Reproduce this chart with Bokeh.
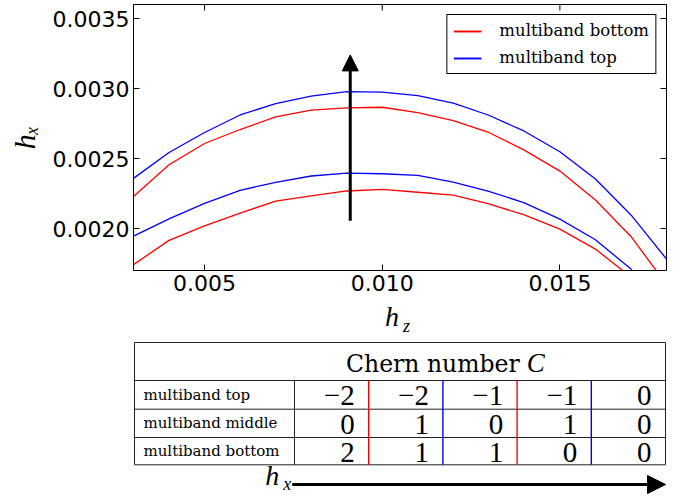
import math

from bokeh.plotting import figure
from bokeh.layouts import column
from bokeh.models import (Range1d, LinearAxis, FixedTicker, PrintfTickFormatter,
                          Label, Arrow, NormalHead, Legend, LegendItem)
from bokeh.embed import file_html
from bokeh.resources import INLINE
from bokeh.core.properties import value

# ---- data -------------------------------------------------------------
# h_z grid
hz = [0.003, 0.004, 0.005, 0.006, 0.007, 0.008, 0.009, 0.010,
      0.011, 0.012, 0.013, 0.014, 0.015, 0.016, 0.017, 0.018]

# phase boundaries h_x(h_z) of the bottom multiband (two transitions)
bottom_upper = [0.002228, 0.002455, 0.002607, 0.002707, 0.002797, 0.002846,
                0.002861, 0.002866, 0.002828, 0.002771, 0.002686, 0.002560,
                0.002410, 0.002204, 0.001943, 0.001600]
bottom_lower = [0.001742, 0.001915, 0.002019, 0.002110, 0.002195, 0.002233,
                0.002268, 0.002280, 0.002259, 0.002238, 0.002176, 0.002097,
                0.001996, 0.001853, 0.001653, 0.001380]

# phase boundaries h_x(h_z) of the top multiband (two transitions)
top_upper = [0.002358, 0.002543, 0.002686, 0.002811, 0.002892, 0.002946,
             0.002977, 0.002974, 0.002949, 0.002896, 0.002809, 0.002695,
             0.002548, 0.002353, 0.002097, 0.001782]
top_lower = [0.001946, 0.002069, 0.002180, 0.002273, 0.002330, 0.002375,
             0.002396, 0.002391, 0.002380, 0.002332, 0.002266, 0.002183,
             0.002067, 0.001920, 0.001710, 0.001450]

x_ticks = [0.005, 0.010, 0.015]
y_ticks = [0.0020, 0.0025, 0.0030, 0.0035]

# Chern numbers of each multiband, ordered by increasing h_x
row_labels = ["multiband top", "multiband middle", "multiband bottom"]
chern_top = [-2, -2, -1, -1, 0]
chern_middle = [0, 1, 0, 1, 0]
chern_bottom = [2, 1, 1, 0, 0]
# which band's boundary separates neighbouring columns
divider_colors = ["red", "blue", "red", "blue"]

# ---- layout constants ---------------------------------------------------
W = 685
TOP_H = 302
BOT_H = 498 - TOP_H
FRAME_L, FRAME_R = 133, 667

ARROW_HZ = 0.0091
ARROW_FROM = 0.002055
ARROW_TO = 0.00324

SERIF = "DejaVu Serif"
MATH = "Liberation Serif"
INK = "black"

# ---- phase diagram ------------------------------------------------------
p = figure(width=W, height=TOP_H,
           x_range=Range1d(0.003, 0.018), y_range=Range1d(0.0017, 0.0036),
           x_axis_type=None, y_axis_type=None,
           output_backend="svg", toolbar_location=None,
           min_border_left=FRAME_L, min_border_right=W - 666,
           min_border_top=4, min_border_bottom=TOP_H - 270)
p.outline_line_color = INK
p.outline_line_width = 1
p.outline_line_alpha = 1
p.background_fill_color = "white"
p.border_fill_color = "white"


def make_axis(ticks, fmt):
    ax = LinearAxis(ticker=FixedTicker(ticks=ticks),
                    formatter=PrintfTickFormatter(format=fmt))
    ax.axis_line_color = None
    ax.major_tick_in = 6
    ax.major_tick_out = 0
    ax.minor_tick_in = 0
    ax.minor_tick_out = 0
    ax.major_tick_line_color = INK
    ax.major_tick_line_width = 1
    ax.major_label_text_font = "DejaVu Sans"
    ax.major_label_text_font_size = "22px"
    ax.major_label_text_color = INK
    ax.major_label_standoff = 4
    return ax


xaxis = make_axis(x_ticks, "%.3f")
yaxis = make_axis(y_ticks, "%.4f")
yaxis.axis_label = "h\u2093"
yaxis.axis_label_text_font = MATH
yaxis.axis_label_text_font_style = "italic"
yaxis.axis_label_text_font_size = "30px"
yaxis.axis_label_text_color = INK
yaxis.axis_label_standoff = 9
p.add_layout(xaxis, "below")
p.add_layout(yaxis, "left")

# inward ticks along the top and right edges (half of each dash is clipped away)
p.scatter(x=x_ticks, y=[p.y_range.end] * len(x_ticks), marker="dash", size=12,
          angle=math.pi / 2, line_color=INK, line_width=1)
p.scatter(x=[p.x_range.end] * len(y_ticks), y=y_ticks, marker="dash", size=12,
          line_color=INK, line_width=1)

r_up = p.line(hz, bottom_upper, line_color="red", line_width=1.3)
r_lo = p.line(hz, bottom_lower, line_color="red", line_width=1.3)
b_up = p.line(hz, top_upper, line_color="blue", line_width=1.3)
b_lo = p.line(hz, top_lower, line_color="blue", line_width=1.3)

legend = Legend(items=[LegendItem(label="multiband bottom", renderers=[r_up, r_lo]),
                       LegendItem(label="multiband top", renderers=[b_up, b_lo])],
                location="top_right", margin=10, padding=6, spacing=8,
                glyph_width=28, glyph_height=14, label_height=14,
                label_standoff=18,
                label_text_font=SERIF, label_text_font_size="16.5px",
                label_text_color=INK,
                border_line_color=INK, border_line_width=1,
                border_line_alpha=1, background_fill_alpha=1)
p.add_layout(legend)

p.add_layout(Arrow(end=NormalHead(size=16, fill_color=INK, line_color=INK),
                   x_start=ARROW_HZ, y_start=ARROW_FROM,
                   x_end=ARROW_HZ, y_end=ARROW_TO,
                   line_width=3, line_color=INK))

# ---- Chern number table ---------------------------------------------------
# this panel uses page-pixel coordinates (y grows downwards)
t = figure(width=W, height=BOT_H, x_range=Range1d(FRAME_L, FRAME_R),
           y_range=Range1d(498, TOP_H),
           x_axis_type=None, y_axis_type=None,
           output_backend="svg", toolbar_location=None,
           min_border_left=FRAME_L, min_border_right=W - FRAME_R,
           min_border_top=0, min_border_bottom=0)
t.outline_line_color = None
t.background_fill_color = "white"
t.border_fill_color = "white"


def math_label(x, y, s, size):
    return Label(x=x, y=y, text=s, text_font=MATH, text_font_style="italic",
                 text_font_size=size, text_color=INK,
                 text_baseline="alphabetic", text_align="left")


# h_z axis title
t.add_layout(math_label(385, 316, "h", "28px"))
t.add_layout(math_label(403, 325, "z", "18px"))
# h_x direction label
t.add_layout(math_label(265, 475, "h", "28px"))
t.add_layout(math_label(283, 483, "x", "18px"))

T_LEFT, T_RIGHT = 134, 666
T_TOP, T_HEAD = 342, 380
ROW_EDGES = [380, 408.7, 437, 464.3]
LABEL_COL = 294.3
COL_W = (T_RIGHT - LABEL_COL) / 5

# frame and horizontal rules
hy = [T_TOP] + ROW_EDGES
t.segment(x0=[T_LEFT] * len(hy), y0=hy, x1=[T_RIGHT] * len(hy), y1=hy,
          line_color="#222222", line_width=1)
t.segment(x0=[T_LEFT, T_RIGHT, LABEL_COL], y0=[T_TOP, T_TOP, T_HEAD],
          x1=[T_LEFT, T_RIGHT, LABEL_COL], y1=[ROW_EDGES[-1]] * 3,
          line_color="#222222", line_width=1)

# coloured phase-boundary dividers
dx = [LABEL_COL + COL_W * (k + 1) for k in range(len(divider_colors))]
t.segment(x0=dx, y0=[T_HEAD] * len(dx), x1=dx, y1=[ROW_EDGES[-1]] * len(dx),
          line_color=divider_colors, line_width=1.4)

# header
t.text(x=[346], y=[363], text=["Chern number"], text_font=value(SERIF),
       text_font_size=value("23.5px"), text_baseline="alphabetic", text_align="left",
       text_color=INK)
t.text(x=[527], y=[362], text=["C"], text_font=value(MATH),
       text_font_style=value("italic"), text_font_size=value("27px"),
       text_baseline="alphabetic", text_align="left", text_color=INK)

row_mid = [(ROW_EDGES[i] + ROW_EDGES[i + 1]) / 2 for i in range(3)]
t.text(x=[143] * 3, y=row_mid, text=row_labels, text_font=value(SERIF),
       text_font_size=value("15px"), text_baseline="middle", text_align="left",
       text_color=INK)

num_x, num_y, num_txt = [], [], []
for i, row in enumerate([chern_top, chern_middle, chern_bottom]):
    for j, c in enumerate(row):
        num_x.append(LABEL_COL + COL_W * (j + 1) - 14)
        num_y.append(row_mid[i] + 1)
        num_txt.append(str(c).replace("-", "\u2212"))
t.text(x=num_x, y=num_y, text=num_txt, text_font=value(MATH),
       text_font_size=value("29px"), text_baseline="middle", text_align="right",
       text_color=INK)

# h_x direction arrow
t.add_layout(Arrow(end=NormalHead(size=18, fill_color=INK, line_color=INK),
                   x_start=292, y_start=484, x_end=666, y_end=484,
                   line_width=3, line_color=INK))

layout = column(p, t, spacing=0)
open("out.html", "w").write(file_html(layout, INLINE))
